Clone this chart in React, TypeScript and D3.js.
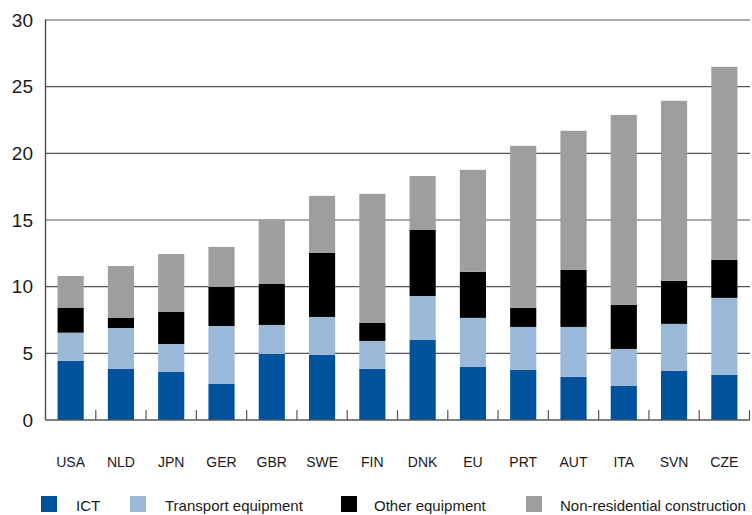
import React from "react";
import * as d3 from "d3";

const categories = ["USA", "NLD", "JPN", "GER", "GBR", "SWE", "FIN", "DNK", "EU", "PRT", "AUT", "ITA", "SVN", "CZE"];
const ict = [4.45, 3.83, 3.6, 2.7, 4.95, 4.88, 3.83, 6.0, 3.98, 3.75, 3.23, 2.55, 3.68, 3.38];
const transport = [2.1, 3.07, 2.1, 4.35, 2.18, 2.85, 2.1, 3.3, 3.68, 3.23, 3.75, 2.78, 3.53, 5.78];
const otherEquip = [1.85, 0.75, 2.4, 2.93, 3.07, 4.8, 1.35, 4.95, 3.45, 1.43, 4.28, 3.3, 3.23, 2.85];
const nonRes = [2.4, 3.9, 4.35, 3.0, 4.8, 4.28, 9.68, 4.05, 7.65, 12.15, 10.43, 14.25, 13.5, 14.48];
const seriesNames = ["ICT", "Transport equipment", "Other equipment", "Non-residential construction"];
const seriesColors = ["#00529c", "#9ab9d8", "#000000", "#9d9ea0"];
const yTicks = [0, 5, 10, 15, 20, 25, 30];

const W = 752, H = 515;
const left = 45.5, right = 749.5, top = 20, bottom = 420;
const FONT = "'Liberation Sans', Arial, sans-serif";

export default function App() {
  const rows = categories.map((c, i) => ({
    cat: c,
    ict: ict[i],
    transport: transport[i],
    other: otherEquip[i],
    nonres: nonRes[i],
  }));
  const keys = ["ict", "transport", "other", "nonres"];
  const stacked = d3.stack<any>().keys(keys)(rows);

  const x = d3.scaleBand().domain(categories).range([left, right]).paddingInner(0.48).paddingOuter(0.24);
  const xStep = d3.scaleBand().domain(categories).range([left, right]).padding(0);
  const y = d3.scaleLinear().domain([0, 30]).range([bottom, top]);

  const boundaries = [...categories.map((c) => xStep(c)!), right];

  const legendSq = [41, 130, 341, 526];
  const legendTx = [76, 165, 374, 560];

  return (
    <svg width={W} height={H} style={{ position: "absolute", left: 0, top: 0 }} fontFamily={FONT}>
      <rect width={W} height={H} fill="#fff" />
      {yTicks.map((t) => (
        <g key={t}>
          {t > 0 && (
            <line x1={left} x2={right + 0.5} y1={y(t)} y2={y(t)} stroke="#555" strokeWidth={1.2} />
          )}
          <text x={33} y={y(t) + 6.8} textAnchor="end" fontSize={19} fill="#1a1a1a">
            {t}
          </text>
        </g>
      ))}
      {stacked.map((s, si) => (
        <g key={s.key} fill={seriesColors[si]}>
          {s.map((d, i) => (
            <rect
              key={i}
              x={x(categories[i])}
              width={x.bandwidth()}
              y={y(d[1])}
              height={y(d[0]) - y(d[1])}
            />
          ))}
        </g>
      ))}
      <line x1={left} x2={left} y1={top - 0.6} y2={bottom} stroke="#444" strokeWidth={1.3} />
      <line x1={left} x2={right + 0.5} y1={bottom} y2={bottom} stroke="#555" strokeWidth={1.4} />
      {boundaries.map((bx, i) => (
        <line key={i} x1={bx} x2={bx} y1={bottom} y2={bottom - 10} stroke="#555" strokeWidth={1.2} />
      ))}
      {categories.map((c) => (
        <text key={c} x={x(c)! + x.bandwidth() / 2} y={466.5} textAnchor="middle" fontSize={14} fill="#1a1a1a">
          {c}
        </text>
      ))}
      {seriesNames.map((n, i) => (
        <g key={n}>
          <rect x={legendSq[i]} y={496} width={16} height={16} fill={seriesColors[i]} />
          <text x={legendTx[i]} y={511} fontSize={15} fill="#1a1a1a">
            {n}
          </text>
        </g>
      ))}
    </svg>
  );
}
